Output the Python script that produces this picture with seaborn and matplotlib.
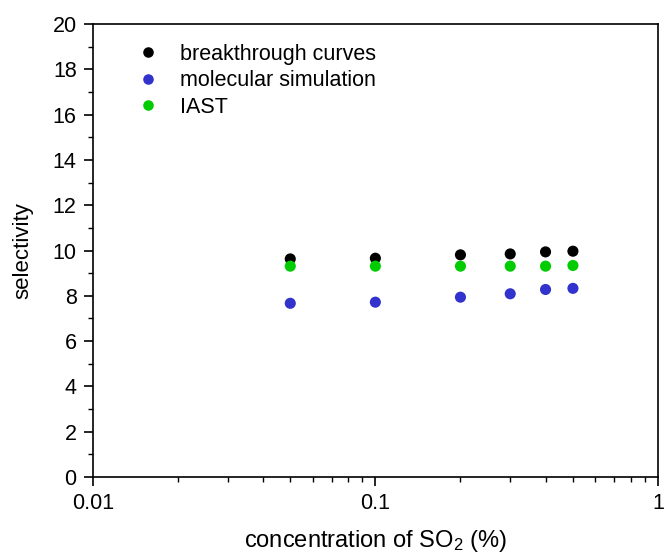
import matplotlib
matplotlib.use("Agg")
import matplotlib.pyplot as plt
import seaborn as sns
import pandas as pd
import numpy as np
from matplotlib.ticker import MultipleLocator, LogLocator, NullFormatter, FixedLocator, FixedFormatter

sns.set_style("ticks")
plt.rcParams['font.family'] = ['Liberation Sans', 'DejaVu Sans']
plt.rcParams['mathtext.fontset'] = 'custom'
plt.rcParams['mathtext.rm'] = 'Liberation Sans'
plt.rcParams['mathtext.it'] = 'Liberation Sans:italic'
for k in ['text.color', 'axes.labelcolor', 'xtick.color', 'ytick.color', 'axes.edgecolor']:
    plt.rcParams[k] = 'black'

conc = [0.05, 0.1, 0.2, 0.3, 0.4, 0.5]
breakthrough = [9.63, 9.66, 9.81, 9.85, 9.94, 9.97]
molecular = [7.67, 7.72, 7.94, 8.09, 8.28, 8.33]
iast = [9.31, 9.31, 9.31, 9.31, 9.31, 9.34]
series_names = ["breakthrough curves", "molecular simulation", "IAST"]
colors = ["#000000", "#3232cc", "#00cc00"]

df = pd.concat([
    pd.DataFrame({"conc": conc, "sel": breakthrough, "series": series_names[0]}),
    pd.DataFrame({"conc": conc, "sel": molecular, "series": series_names[1]}),
    pd.DataFrame({"conc": conc, "sel": iast, "series": series_names[2]}),
])

fig = plt.figure(figsize=(6.64, 5.55), dpi=100)
ax = fig.add_axes([0.1396, 0.1405, 0.8514, 0.8162])
sns.scatterplot(data=df, x="conc", y="sel", hue="series", palette=colors,
                hue_order=series_names, s=64, edgecolor="none", ax=ax, zorder=3)
ax.set_xscale("log")
ax.set_xlim(0.01, 1)
ax.set_ylim(0, 20)
ax.yaxis.set_major_locator(MultipleLocator(2))
ax.yaxis.set_minor_locator(MultipleLocator(1))
ax.xaxis.set_major_locator(FixedLocator([0.01, 0.1, 1]))
ax.xaxis.set_major_formatter(FixedFormatter(["0.01", "0.1", "1"]))
ax.xaxis.set_minor_locator(LogLocator(base=10, subs=np.arange(2, 10)))
ax.xaxis.set_minor_formatter(NullFormatter())
for s in ax.spines.values():
    s.set_linewidth(1.2)
    s.set_color("black")
ax.tick_params(which="major", length=6.5, width=1.2, labelsize=15.5, color="black",
               labelcolor="black", pad=5)
ax.tick_params(which="minor", length=3.5, width=1.0, color="black")
ax.set_xlabel("concentration of SO$_\\mathrm{2}$ (%)", fontsize=17, labelpad=10, color="black")
ax.set_ylabel("selectivity", fontsize=16, labelpad=14, color="black")
leg = ax.legend(loc="upper left", bbox_to_anchor=(0.037, 0.985), frameon=False,
                fontsize=15.5, handletextpad=0.5, labelspacing=0.25,
                borderaxespad=0.2)
leg.set_title(None)
for t in leg.get_texts():
    t.set_color("black")
for h in leg.legend_handles:
    try:
        h.set_markersize(7.6)
    except Exception:
        h.set_sizes([58])
fig.savefig("out.png", dpi=100)
